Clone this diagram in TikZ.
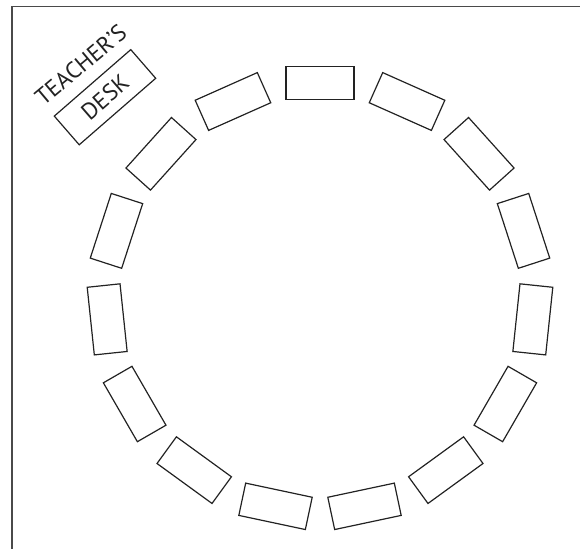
\documentclass[tikz,border=0pt]{standalone}
\usepackage{fontspec}
\setmainfont{PT Sans}
\definecolor{framegray}{HTML}{4A4A4A}
\definecolor{ink}{HTML}{222222}
\begin{document}
\begin{tikzpicture}[x=0.75pt,y=-0.75pt,
  desk/.style={draw=ink, line width=0.9pt, minimum width=51pt, minimum height=24.75pt, inner sep=0pt},
  tdesk/.style={draw=ink, line width=0.9pt, minimum width=76pt, minimum height=28.5pt, inner sep=0pt, rotate=41,
    font=\fontsize{17.5}{19}\selectfont, text=ink},
  label/.style={font=\fontsize{17.5}{19}\selectfont, text=ink, rotate=40, anchor=base, inner sep=0pt}]
\useasboundingbox (0,0) rectangle (580,549);
\coordinate (tl) at (12,6.5);
\coordinate (tr) at (580,6.5);
\coordinate (bl) at (12,549);
\draw[framegray, line width=1.1pt] (tr) -- (tl) -- (bl);
\foreach \k in {0,...,14} {
  \pgfmathsetmacro\a{90-24*\k}
  \node[desk, rotate=\a-90] (d\k) at ({320+214*cos(\a)},{297-214*sin(\a)}) {};
}
\node[tdesk] (teacher) at (105,97.2) {DESK};
\node[label] (tlabel) at (86,71) {TEACHER’S};
\end{tikzpicture}
\end{document}
